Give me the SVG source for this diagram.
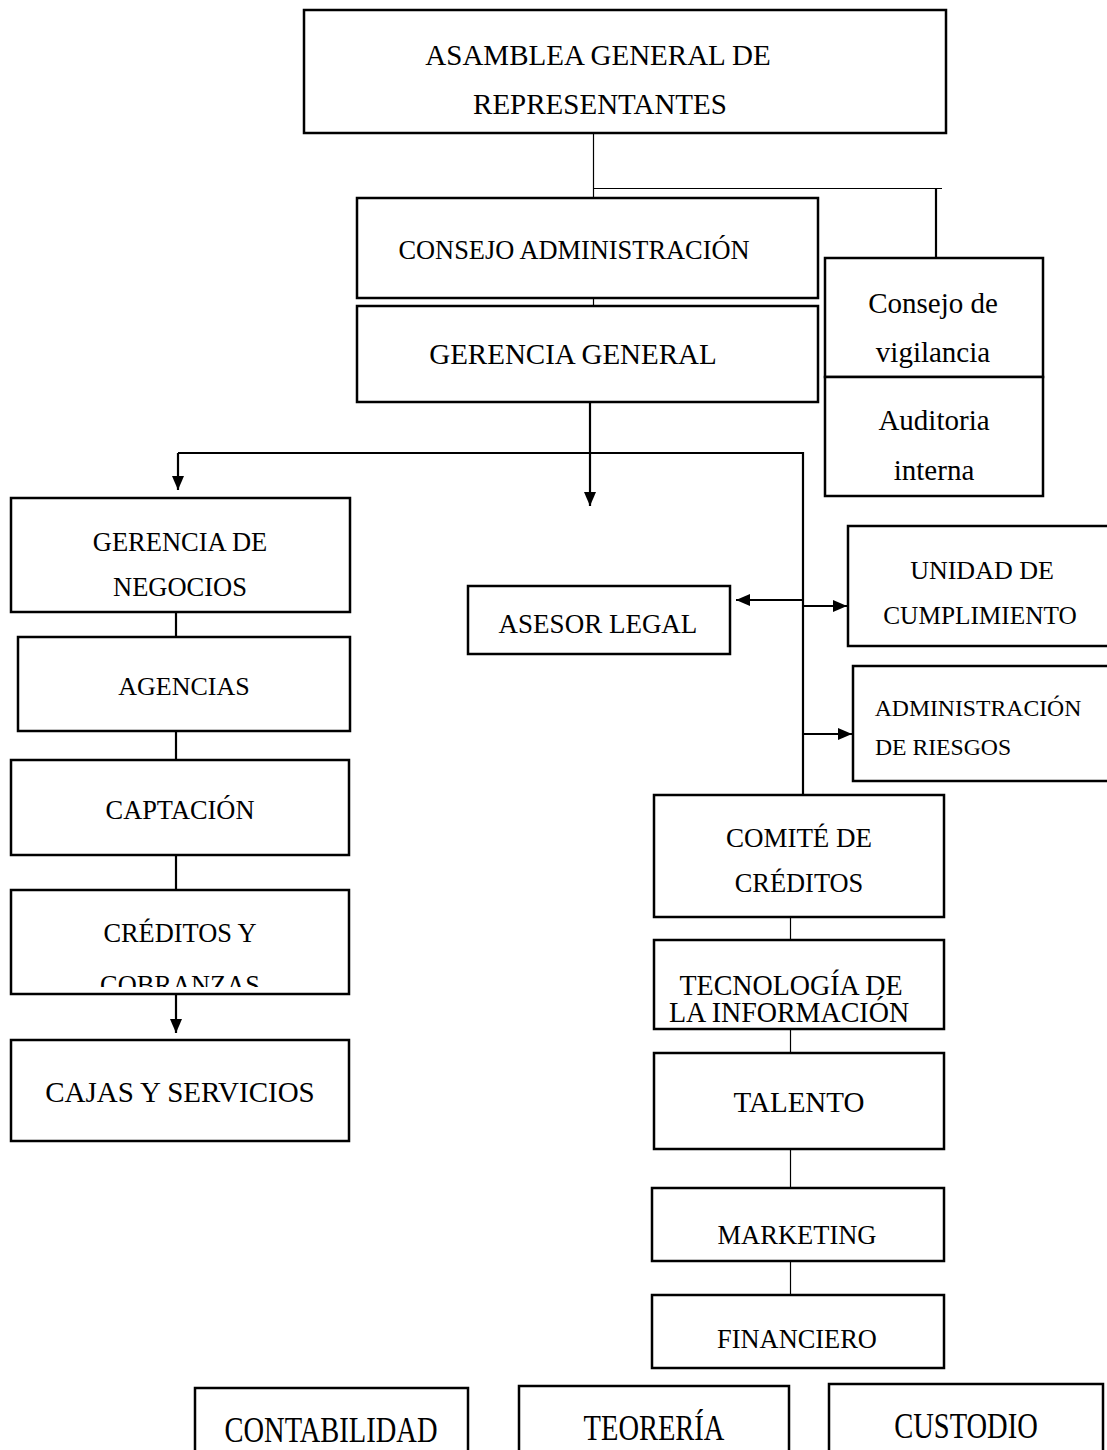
<svg xmlns="http://www.w3.org/2000/svg" width="1107" height="1450" viewBox="0 0 1107 1450">
<style>
.box{fill:#fff;stroke:#000;stroke-width:2.5}
.t{font-family:"Liberation Serif","Times New Roman",serif;fill:#000;text-anchor:middle}
.thin{stroke:#000;stroke-width:1.2;fill:none}
.thick{stroke:#000;stroke-width:2.2;fill:none}
</style>
<defs>
<marker id="ah" viewBox="0 0 14 12" refX="14" refY="6" markerWidth="14" markerHeight="12" markerUnits="userSpaceOnUse" orient="auto">
<path d="M0,0 L14,6 L0,12 Z" fill="#000"/>
</marker>
<clipPath id="clipcob"><rect x="11" y="890" width="338" height="97"/></clipPath>
</defs>
<g id="connectors">
<path class="thin" d="M593.5,133 V198"/>
<path class="thin" d="M593,188.5 H942"/>
<path class="thick" d="M936,188 V258"/>
<path class="thin" d="M593.5,298 V306"/>
<path class="thick" d="M590,402 V506" marker-end="url(#ah)"/>
<path class="thick" d="M178,453 H803 V795"/>
<path class="thick" d="M178,453 V490" marker-end="url(#ah)"/>
<path class="thick" d="M803,600 H736" marker-end="url(#ah)"/>
<path class="thick" d="M803,606 H847" marker-end="url(#ah)"/>
<path class="thick" d="M803,734 H852" marker-end="url(#ah)"/>
<path class="thick" d="M176,612 V637"/>
<path class="thick" d="M176,731 V760"/>
<path class="thick" d="M176,855 V890"/>
<path class="thick" d="M176,994 V1033" marker-end="url(#ah)"/>
<path class="thin" d="M790.5,917 V940"/>
<path class="thin" d="M790.5,1029 V1053"/>
<path class="thin" d="M790.5,1149 V1188"/>
<path class="thin" d="M790.5,1261 V1295"/>
</g>
<g id="asamblea"><rect class="box" x="304" y="10" width="642" height="123"/>
<text class="t" x="598" y="65" font-size="29">ASAMBLEA GENERAL DE</text>
<text class="t" x="600" y="114" font-size="29">REPRESENTANTES</text></g>
<g id="consejo-admin"><rect class="box" x="357" y="198" width="461" height="100"/>
<text class="t" x="574" y="259" font-size="26.4">CONSEJO ADMINISTRACIÓN</text></g>
<g id="gerencia-general"><rect class="box" x="357" y="306" width="461" height="96"/>
<text class="t" x="573" y="364" font-size="29">GERENCIA GENERAL</text></g>
<g id="consejo-vigilancia"><rect class="box" x="825" y="258" width="218" height="119"/>
<text class="t" x="933" y="313" font-size="29">Consejo de</text>
<text class="t" x="933" y="362" font-size="29">vigilancia</text></g>
<g id="auditoria"><rect class="box" x="825" y="377" width="218" height="119"/>
<text class="t" x="934" y="430" font-size="29">Auditoria</text>
<text class="t" x="934" y="480" font-size="29">interna</text></g>
<g id="gerencia-negocios"><rect class="box" x="11" y="498" width="339" height="114"/>
<text class="t" x="180" y="551" font-size="26.5">GERENCIA DE</text>
<text class="t" x="180" y="596" font-size="26.5">NEGOCIOS</text></g>
<g id="agencias"><rect class="box" x="18" y="637" width="332" height="94"/>
<text class="t" x="184" y="695" font-size="26">AGENCIAS</text></g>
<g id="captacion"><rect class="box" x="11" y="760" width="338" height="95"/>
<text class="t" x="180" y="819" font-size="26.4">CAPTACIÓN</text></g>
<g id="creditos-cobranzas"><rect class="box" x="11" y="890" width="338" height="104"/>
<text class="t" x="180" y="942" font-size="26.4">CRÉDITOS Y</text>
<text class="t" x="180" y="994" font-size="26.4" clip-path="url(#clipcob)">COBRANZAS</text></g>
<g id="cajas"><rect class="box" x="11" y="1040" width="338" height="101"/>
<text class="t" x="180" y="1102" font-size="29">CAJAS Y SERVICIOS</text></g>
<g id="asesor-legal"><rect class="box" x="468" y="586" width="262" height="68"/>
<text class="t" x="598" y="633" font-size="27">ASESOR LEGAL</text></g>
<g id="unidad-cumplimiento"><rect class="box" x="848" y="526" width="270" height="120"/>
<text class="t" x="982" y="579" font-size="26">UNIDAD DE</text>
<text class="t" x="980" y="624" font-size="25.3">CUMPLIMIENTO</text></g>
<g id="admin-riesgos"><rect class="box" x="853" y="666" width="265" height="115"/>
<text class="t" x="978" y="716" font-size="23.7">ADMINISTRACIÓN</text>
<text class="t" x="943" y="755" font-size="23.7">DE RIESGOS</text></g>
<g id="comite-creditos"><rect class="box" x="654" y="795" width="290" height="122"/>
<text class="t" x="799" y="847" font-size="27">COMITÉ DE</text>
<text class="t" x="799" y="892" font-size="26.4">CRÉDITOS</text></g>
<g id="tecnologia"><rect class="box" x="654" y="940" width="290" height="89"/>
<text class="t" font-size="28" transform="translate(791,995) scale(1,1.08)">TECNOLOGÍA DE</text>
<text class="t" font-size="28" transform="translate(789,1022) scale(1,1.08)">LA INFORMACIÓN</text></g>
<g id="talento"><rect class="box" x="654" y="1053" width="290" height="96"/>
<text class="t" x="799" y="1112" font-size="29">TALENTO</text></g>
<g id="marketing"><rect class="box" x="652" y="1188" width="292" height="73"/>
<text class="t" x="797" y="1244" font-size="26.5">MARKETING</text></g>
<g id="financiero"><rect class="box" x="652" y="1295" width="292" height="73"/>
<text class="t" x="797" y="1348" font-size="26.4">FINANCIERO</text></g>
<g id="contabilidad"><rect class="box" x="195" y="1388" width="273" height="80"/>
<text class="t" font-size="28.5" transform="translate(331,1442) scale(1,1.25)">CONTABILIDAD</text></g>
<g id="teoreria"><rect class="box" x="519" y="1386" width="270" height="80"/>
<text class="t" font-size="28.5" transform="translate(654,1440) scale(1,1.25)">TEORERÍA</text></g>
<g id="custodio"><rect class="box" x="829" y="1384" width="274" height="80"/>
<text class="t" font-size="28.5" transform="translate(966,1438) scale(1,1.25)">CUSTODIO</text></g>
</svg>
